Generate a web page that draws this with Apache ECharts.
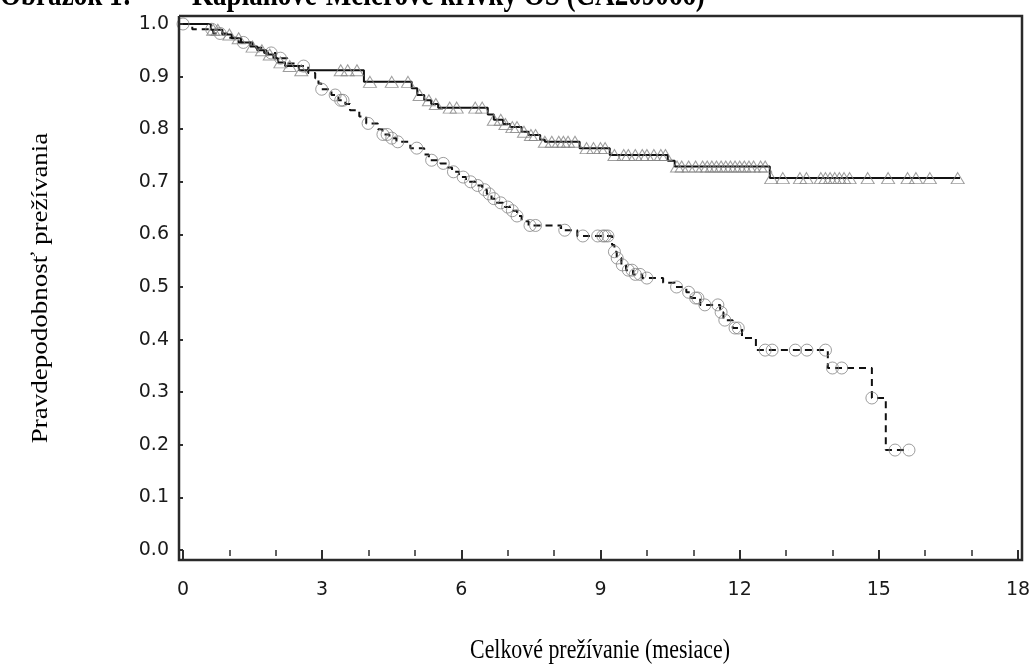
<!DOCTYPE html>
<html><head><meta charset="utf-8">
<script src="https://cdn.jsdelivr.net/npm/echarts@6/dist/echarts.min.js"></script>
<style>html,body{margin:0;padding:0;background:#fff}#c{width:1030px;height:666px}</style>
</head><body><div id="c"></div>
<script>
// ---- text ----
const titleLeft = 'Obrázok 1:';
const titleRight = 'Kaplanove-Meierove krivky OS (CA209066)';
const xAxisTitle = 'Celkové prežívanie (mesiace)';
const yAxisTitle = 'Pravdepodobnosť prežívania';

// ---- axes ----
const xMin = 0, xMax = 18, xStep = 3;
const yMin = 0, yMax = 1, yStep = 0.1;

// ---- arm A (solid line, triangle censor marks) ----
const armA_time = [0, 0.6, 0.85, 1.05, 1.25, 1.45, 1.6, 1.8, 1.95, 2.05, 2.2, 2.5, 3.9, 4.93, 5.05, 5.2, 5.35, 5.5, 6.57, 6.7, 6.9, 7.05, 7.3, 7.45, 7.7, 7.8, 8.55, 9.2, 10.45, 10.6, 12.65, 16.75];
const armA_surv = [1.0, 0.989, 0.98, 0.973, 0.965, 0.957, 0.95, 0.942, 0.935, 0.927, 0.92, 0.912, 0.89, 0.878, 0.865, 0.855, 0.848, 0.841, 0.828, 0.818, 0.81, 0.804, 0.795, 0.789, 0.78, 0.776, 0.764, 0.751, 0.74, 0.729, 0.707, 0.707];
const armA_censor = [0.65, 0.75, 1.0, 1.2, 1.5, 1.7, 1.87, 2.1, 2.3, 2.55, 3.4, 3.55, 3.75, 4.03, 4.5, 4.85, 5.1, 5.3, 5.45, 5.75, 5.9, 6.3, 6.45, 6.7, 6.85, 6.95, 7.1, 7.2, 7.35, 7.5, 7.6, 7.8, 7.95, 8.1, 8.2, 8.3, 8.45, 8.7, 8.85, 9.0, 9.1, 9.3, 9.5, 9.6, 9.75, 9.9, 10.0, 10.15, 10.3, 10.4, 10.65, 10.75, 10.9, 11.05, 11.2, 11.3, 11.4, 11.5, 11.6, 11.7, 11.8, 11.9, 12.0, 12.1, 12.2, 12.3, 12.45, 12.55, 12.68, 12.93, 13.3, 13.44, 13.75, 13.85, 13.95, 14.05, 14.15, 14.25, 14.37, 14.76, 15.2, 15.62, 15.8, 16.1, 16.7];

// ---- arm B (dashed line, circle censor marks) ----
const armB_time = [0, 0.2, 0.65, 0.95, 1.2, 1.5, 1.75, 2.0, 2.25, 2.45, 2.7, 2.85, 2.92, 2.98, 3.2, 3.35, 3.5, 3.6, 3.8, 3.95, 4.2, 4.3, 4.45, 4.6, 4.9, 5.2, 5.3, 5.55, 5.7, 5.8, 5.95, 6.1, 6.3, 6.45, 6.55, 6.65, 6.75, 6.9, 7.05, 7.2, 7.3, 7.45, 8.15, 8.5, 9.25, 9.3, 9.35, 9.45, 9.55, 9.7, 9.9, 10.35, 10.6, 10.85, 10.95, 11.15, 11.58, 11.65, 11.85, 12.05, 12.35, 13.9, 14.85, 15.15, 15.65];
const armB_surv = [1.0, 0.99, 0.982, 0.974, 0.965, 0.955, 0.945, 0.935, 0.925, 0.92, 0.907, 0.897, 0.887, 0.876, 0.865, 0.855, 0.848, 0.836, 0.824, 0.811, 0.8, 0.79, 0.783, 0.776, 0.764, 0.752, 0.741, 0.735, 0.727, 0.719, 0.709, 0.7, 0.693, 0.685, 0.677, 0.668, 0.66, 0.652, 0.645, 0.635, 0.625, 0.617, 0.608, 0.597, 0.58, 0.567, 0.555, 0.542, 0.532, 0.524, 0.517, 0.508, 0.5, 0.49, 0.479, 0.466, 0.452, 0.437, 0.422, 0.403, 0.38, 0.346, 0.289, 0.19, 0.19];
const armB_censor = [0, 0.62, 0.8, 1.3, 1.9, 2.1, 2.6, 2.99, 3.28, 3.4, 3.45, 3.99, 4.31, 4.4, 4.5, 4.63, 5.04, 5.36, 5.61, 5.83, 6.04, 6.2, 6.35, 6.5, 6.6, 6.7, 6.85, 7.0, 7.1, 7.2, 7.48, 7.6, 8.23, 8.62, 8.94, 9.05, 9.1, 9.16, 9.3, 9.36, 9.47, 9.6, 9.68, 9.75, 9.85, 10.0, 10.64, 10.9, 11.05, 11.1, 11.25, 11.53, 11.6, 11.68, 11.9, 11.97, 12.55, 12.7, 13.2, 13.45, 13.85, 14.0, 14.2, 14.85, 15.35, 15.65];

function stepPoints(t, s) { return t.map((v, i) => [v, s[i]]); }
function survAt(t, s, x) {
  let v = s[0];
  for (let i = 0; i < t.length; i++) { if (t[i] <= x + 1e-9) v = s[i]; else break; }
  return v;
}
function censorPoints(t, s, c) { return c.map(x => [x, survAt(t, s, x)]); }

const chart = echarts.init(document.getElementById('c'), null, { renderer: 'canvas' });
const axisColor = '#2e2e2e';
const sans = '"DejaVu Sans", Verdana, sans-serif';
const serif = '"Liberation Serif", "Times New Roman", serif';

// plot frame (drawn a little outside the data area, SAS style)
const frame = { left: 179, top: 16, right: 1022, bottom: 560 };

chart.setOption({
  animation: false,
  backgroundColor: '#fff',
  grid: [
    { left: 183, right: 12, top: 24, bottom: 116, outerBoundsMode: 'none', containLabel: false }
  ],
  xAxis: [
    {
      type: 'value', gridIndex: 0, min: xMin, max: xMax, interval: xStep, offset: 10,
      axisLine: { show: false },
      axisTick: { show: true, length: 11, lineStyle: { color: axisColor, width: 2 } },
      minorTick: { show: true, splitNumber: 3, length: 6, lineStyle: { color: axisColor, width: 1.5 } },
      splitLine: { show: false },
      axisLabel: { margin: 21, color: '#1a1a1a', fontSize: 19, fontFamily: sans }
    }
  ],
  yAxis: [
    {
      type: 'value', gridIndex: 0, min: yMin, max: yMax, interval: yStep, offset: 5,
      axisLine: { show: false },
      axisTick: { show: true, length: 5, lineStyle: { color: axisColor, width: 2 } },
      splitLine: { show: false },
      axisLabel: { margin: 9, color: '#1a1a1a', fontSize: 19, fontFamily: sans, formatter: v => v.toFixed(1) }
    }
  ],
  graphic: [
    { type: 'polyline', z: 10, silent: true,
      shape: { points: [[frame.left, frame.top], [frame.right, frame.top], [frame.right, frame.bottom], [frame.left, frame.bottom], [frame.left, frame.top]] },
      style: { fill: null, stroke: '#2a2a2a', lineWidth: 2.5 } },
    { type: 'text', x: 0, y: -4, scaleX: 0.82, style: { text: titleLeft, fontSize: 33, fontWeight: 'bold', fontFamily: serif, fill: '#000', align: 'left', verticalAlign: 'middle' } },
    { type: 'text', x: 192, y: -4, scaleX: 0.82, style: { text: titleRight, fontSize: 33, fontWeight: 'bold', fontFamily: serif, fill: '#000', align: 'left', verticalAlign: 'middle' } },
    { type: 'text', x: 600, y: 651, scaleX: 0.81, style: { text: xAxisTitle, fontSize: 27, fontFamily: serif, fill: '#000', align: 'center', verticalAlign: 'middle' } },
    { type: 'text', x: 41, y: 288, rotation: Math.PI / 2, scaleY: 0.82, style: { text: yAxisTitle, fontSize: 27, fontFamily: serif, fill: '#000', align: 'center', verticalAlign: 'middle' } }
  ],
  series: [
    {
      name: 'A', type: 'line', xAxisIndex: 0, yAxisIndex: 0, step: 'end', symbol: 'none',
      data: stepPoints(armA_time, armA_surv),
      lineStyle: { color: '#111', width: 2 }, z: 3
    },
    {
      name: 'B', type: 'line', xAxisIndex: 0, yAxisIndex: 0, step: 'end', symbol: 'none',
      data: stepPoints(armB_time, armB_surv),
      lineStyle: { color: '#111', width: 2, type: [7, 5] }, z: 3
    },
    {
      name: 'A censored', type: 'scatter', xAxisIndex: 0, yAxisIndex: 0, symbol: 'triangle', symbolSize: [13, 11],
      data: censorPoints(armA_time, armA_surv, armA_censor),
      itemStyle: { color: 'none', borderColor: '#858585', borderWidth: 1 }, z: 4
    },
    {
      name: 'B censored', type: 'scatter', xAxisIndex: 0, yAxisIndex: 0, symbol: 'circle', symbolSize: 12,
      data: censorPoints(armB_time, armB_surv, armB_censor),
      itemStyle: { color: 'none', borderColor: '#858585', borderWidth: 1 }, z: 4
    }
  ]
});
</script>
</body></html>
